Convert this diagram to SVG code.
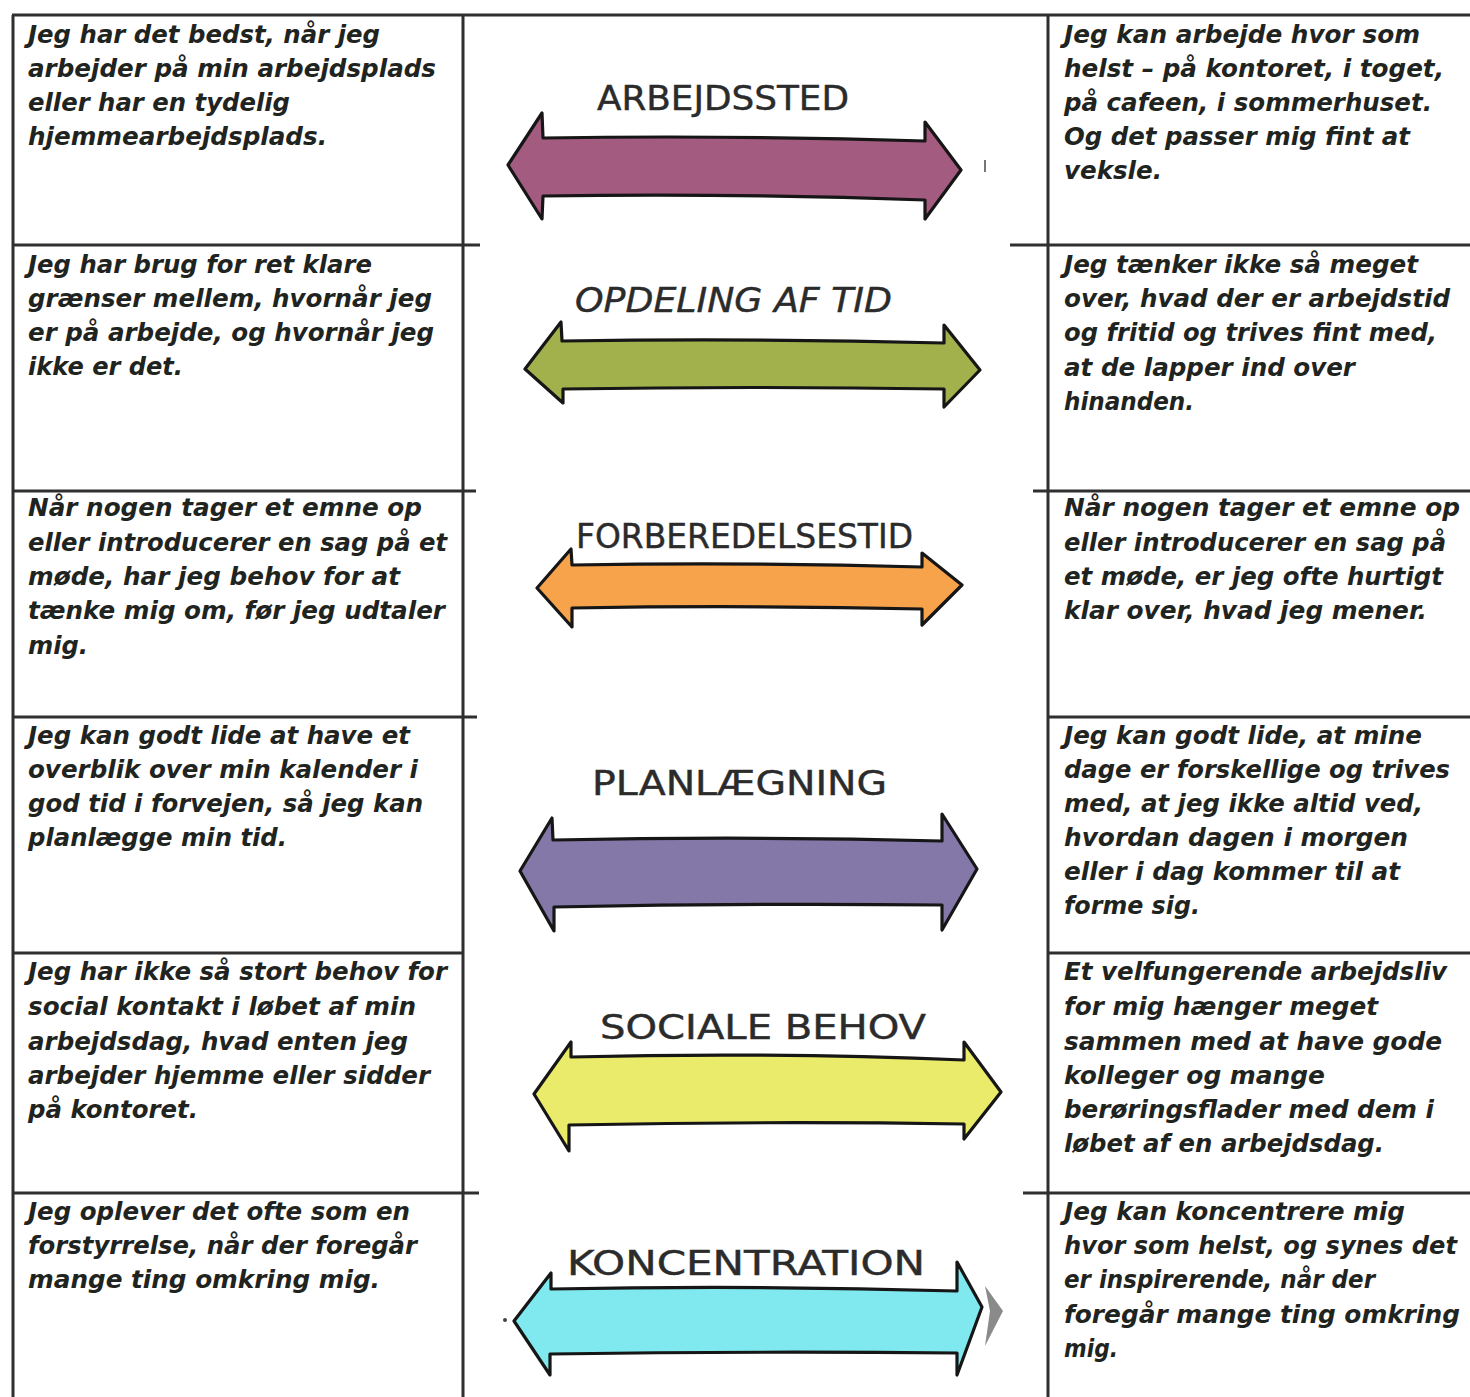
<svg xmlns="http://www.w3.org/2000/svg" width="1470" height="1397" viewBox="0 0 1470 1397">
  <style>
    .cell { font-family: "DejaVu Sans", "Liberation Sans", sans-serif; font-weight: bold; font-style: italic; font-size: 24px; fill: #1f2420; }
    .head { font-family: "DejaVu Sans Condensed", "DejaVu Sans", sans-serif; font-size: 34px; fill: #2b2b2b; stroke: #2b2b2b; stroke-width: 0.4; }
    .arrow { stroke: #161616; stroke-width: 3.2; stroke-linejoin: round; }
    .rule { stroke: #2f2f2f; stroke-width: 3; fill: none; }
  </style>

  <rect x="0" y="0" width="1470" height="1397" fill="#ffffff"/>

  <!-- table rules -->
  <g id="connectors">
    <line class="rule" x1="12" y1="15" x2="1470" y2="15"/>
    <line class="rule" x1="13" y1="15" x2="13" y2="1397"/>
    <line class="rule" x1="463" y1="15" x2="463" y2="1397"/>
    <line class="rule" x1="1048" y1="15" x2="1048" y2="1397" stroke="#4a4a4a"/>
    <line class="rule" x1="13" y1="245" x2="480" y2="245"/>
    <line class="rule" x1="1010" y1="245" x2="1470" y2="245"/>
    <line class="rule" x1="13" y1="491" x2="476" y2="491"/>
    <line class="rule" x1="1033" y1="491" x2="1470" y2="491"/>
    <line class="rule" x1="13" y1="717" x2="477" y2="717"/>
    <line class="rule" x1="1048" y1="717" x2="1470" y2="717"/>
    <line class="rule" x1="13" y1="953" x2="463" y2="953"/>
    <line class="rule" x1="1048" y1="953" x2="1470" y2="953"/>
    <line class="rule" x1="13" y1="1193" x2="479" y2="1193"/>
    <line class="rule" x1="1023" y1="1193" x2="1470" y2="1193"/>
  </g>

  <!-- row 1: arbejdssted -->
  <g id="left-arbejdssted">
    <text class="cell" x="28" y="43" textLength="352" lengthAdjust="spacingAndGlyphs">Jeg har det bedst, når jeg</text>
    <text class="cell" x="28" y="77" textLength="408" lengthAdjust="spacingAndGlyphs">arbejder på min arbejdsplads</text>
    <text class="cell" x="28" y="111" textLength="262" lengthAdjust="spacingAndGlyphs">eller har en tydelig</text>
    <text class="cell" x="28" y="145" textLength="299" lengthAdjust="spacingAndGlyphs">hjemmearbejdsplads.</text>
  </g>
  <g id="scale-arbejdssted">
    <text class="head" x="597" y="110" textLength="252" lengthAdjust="spacingAndGlyphs">ARBEJDSSTED</text>
    <path class="arrow" fill="#a45b80" d="M508,165 L542,113 L543,138 Q730,135 925,141 L925,122 L961,170 L925,219 L925,200 Q730,193 543,196 L542,219 Z"/>
    <line x1="985" y1="160" x2="985" y2="172" stroke="#777" stroke-width="2"/>
  </g>
  <g id="right-arbejdssted">
    <text class="cell" x="1064" y="43" textLength="356" lengthAdjust="spacingAndGlyphs">Jeg kan arbejde hvor som</text>
    <text class="cell" x="1064" y="77" textLength="380" lengthAdjust="spacingAndGlyphs">helst – på kontoret, i toget,</text>
    <text class="cell" x="1064" y="111" textLength="368" lengthAdjust="spacingAndGlyphs">på cafeen, i sommerhuset.</text>
    <text class="cell" x="1064" y="145" textLength="346" lengthAdjust="spacingAndGlyphs">Og det passer mig fint at</text>
    <text class="cell" x="1064" y="179" textLength="98" lengthAdjust="spacingAndGlyphs">veksle.</text>
  </g>

  <!-- row 2: opdeling af tid -->
  <g id="left-opdeling">
    <text class="cell" x="28" y="273" textLength="344" lengthAdjust="spacingAndGlyphs">Jeg har brug for ret klare</text>
    <text class="cell" x="28" y="307" textLength="404" lengthAdjust="spacingAndGlyphs">grænser mellem, hvornår jeg</text>
    <text class="cell" x="28" y="341" textLength="406" lengthAdjust="spacingAndGlyphs">er på arbejde, og hvornår jeg</text>
    <text class="cell" x="28" y="375" textLength="155" lengthAdjust="spacingAndGlyphs">ikke er det.</text>
  </g>
  <g id="scale-opdeling">
    <text class="head" x="575" y="312" font-size="28" font-style="italic" textLength="317" lengthAdjust="spacingAndGlyphs">OPDELING AF TID</text>
    <path class="arrow" fill="#a3b14c" d="M525,369 L561,322 L562,341 Q750,338 944,343 L944,325 L980,370 L944,407 L944,389 Q750,386 563,389 L563,403 Z"/>
  </g>
  <g id="right-opdeling">
    <text class="cell" x="1064" y="273" textLength="354" lengthAdjust="spacingAndGlyphs">Jeg tænker ikke så meget</text>
    <text class="cell" x="1064" y="307" textLength="386" lengthAdjust="spacingAndGlyphs">over, hvad der er arbejdstid</text>
    <text class="cell" x="1064" y="341" textLength="373" lengthAdjust="spacingAndGlyphs">og fritid og trives fint med,</text>
    <text class="cell" x="1064" y="376" textLength="291" lengthAdjust="spacingAndGlyphs">at de lapper ind over</text>
    <text class="cell" x="1064" y="410" textLength="130" lengthAdjust="spacingAndGlyphs">hinanden.</text>
  </g>

  <!-- row 3: forberedelsestid -->
  <g id="left-forberedelse">
    <text class="cell" x="28" y="516" textLength="394" lengthAdjust="spacingAndGlyphs">Når nogen tager et emne op</text>
    <text class="cell" x="28" y="551" textLength="419" lengthAdjust="spacingAndGlyphs">eller introducerer en sag på et</text>
    <text class="cell" x="28" y="585" textLength="372" lengthAdjust="spacingAndGlyphs">møde, har jeg behov for at</text>
    <text class="cell" x="28" y="619" textLength="417" lengthAdjust="spacingAndGlyphs">tænke mig om, før jeg udtaler</text>
    <text class="cell" x="28" y="654" textLength="60" lengthAdjust="spacingAndGlyphs">mig.</text>
  </g>
  <g id="scale-forberedelse">
    <text class="head" x="576" y="548" font-size="29" textLength="337" lengthAdjust="spacingAndGlyphs">FORBEREDELSESTID</text>
    <path class="arrow" fill="#f6a34c" d="M537,588 L571,549 L572,565 Q745,562 922,567 L922,553 L962,585 L922,625 L922,609 Q745,605 572,608 L572,627 Z"/>
  </g>
  <g id="right-forberedelse">
    <text class="cell" x="1064" y="516" textLength="396" lengthAdjust="spacingAndGlyphs">Når nogen tager et emne op</text>
    <text class="cell" x="1064" y="551" textLength="382" lengthAdjust="spacingAndGlyphs">eller introducerer en sag på</text>
    <text class="cell" x="1064" y="585" textLength="379" lengthAdjust="spacingAndGlyphs">et møde, er jeg ofte hurtigt</text>
    <text class="cell" x="1064" y="619" textLength="363" lengthAdjust="spacingAndGlyphs">klar over, hvad jeg mener.</text>
  </g>

  <!-- row 4: planlægning -->
  <g id="left-planlaegning">
    <text class="cell" x="28" y="744" textLength="382" lengthAdjust="spacingAndGlyphs">Jeg kan godt lide at have et</text>
    <text class="cell" x="28" y="778" textLength="390" lengthAdjust="spacingAndGlyphs">overblik over min kalender i</text>
    <text class="cell" x="28" y="812" textLength="395" lengthAdjust="spacingAndGlyphs">god tid i forvejen, så jeg kan</text>
    <text class="cell" x="28" y="846" textLength="259" lengthAdjust="spacingAndGlyphs">planlægge min tid.</text>
  </g>
  <g id="scale-planlaegning">
    <text class="head" x="592" y="795" font-size="37" textLength="295" lengthAdjust="spacingAndGlyphs">PLANLÆGNING</text>
    <path class="arrow" fill="#8478a8" d="M520,871 L552,818 L553,840 Q750,836 942,841 L942,814 L977,869 L942,930 L942,905 Q750,903 554,907 L554,931 Z"/>
  </g>
  <g id="right-planlaegning">
    <text class="cell" x="1064" y="744" textLength="358" lengthAdjust="spacingAndGlyphs">Jeg kan godt lide, at mine</text>
    <text class="cell" x="1064" y="778" textLength="386" lengthAdjust="spacingAndGlyphs">dage er forskellige og trives</text>
    <text class="cell" x="1064" y="812" textLength="359" lengthAdjust="spacingAndGlyphs">med, at jeg ikke altid ved,</text>
    <text class="cell" x="1064" y="846" textLength="344" lengthAdjust="spacingAndGlyphs">hvordan dagen i morgen</text>
    <text class="cell" x="1064" y="880" textLength="336" lengthAdjust="spacingAndGlyphs">eller i dag kommer til at</text>
    <text class="cell" x="1064" y="914" textLength="136" lengthAdjust="spacingAndGlyphs">forme sig.</text>
  </g>

  <!-- row 5: sociale behov -->
  <g id="left-sociale">
    <text class="cell" x="28" y="980" textLength="419" lengthAdjust="spacingAndGlyphs">Jeg har ikke så stort behov for</text>
    <text class="cell" x="28" y="1015" textLength="388" lengthAdjust="spacingAndGlyphs">social kontakt i løbet af min</text>
    <text class="cell" x="28" y="1050" textLength="380" lengthAdjust="spacingAndGlyphs">arbejdsdag, hvad enten jeg</text>
    <text class="cell" x="28" y="1084" textLength="402" lengthAdjust="spacingAndGlyphs">arbejder hjemme eller sidder</text>
    <text class="cell" x="28" y="1118" textLength="170" lengthAdjust="spacingAndGlyphs">på kontoret.</text>
  </g>
  <g id="scale-sociale">
    <text class="head" x="600" y="1039" font-size="35" textLength="326" lengthAdjust="spacingAndGlyphs">SOCIALE BEHOV</text>
    <path class="arrow" fill="#ebeb6b" d="M534,1094 L571,1042 L571,1057 Q770,1052 964,1060 L964,1042 L1001,1092 L964,1139 L964,1124 Q770,1121 569,1125 L569,1151 Z"/>
  </g>
  <g id="right-sociale">
    <text class="cell" x="1064" y="980" textLength="383" lengthAdjust="spacingAndGlyphs">Et velfungerende arbejdsliv</text>
    <text class="cell" x="1064" y="1015" textLength="314" lengthAdjust="spacingAndGlyphs">for mig hænger meget</text>
    <text class="cell" x="1064" y="1050" textLength="378" lengthAdjust="spacingAndGlyphs">sammen med at have gode</text>
    <text class="cell" x="1064" y="1084" textLength="261" lengthAdjust="spacingAndGlyphs">kolleger og mange</text>
    <text class="cell" x="1064" y="1118" textLength="370" lengthAdjust="spacingAndGlyphs">berøringsflader med dem i</text>
    <text class="cell" x="1064" y="1152" textLength="320" lengthAdjust="spacingAndGlyphs">løbet af en arbejdsdag.</text>
  </g>

  <!-- row 6: koncentration -->
  <g id="left-koncentration">
    <text class="cell" x="28" y="1220" textLength="382" lengthAdjust="spacingAndGlyphs">Jeg oplever det ofte som en</text>
    <text class="cell" x="28" y="1254" textLength="389" lengthAdjust="spacingAndGlyphs">forstyrrelse, når der foregår</text>
    <text class="cell" x="28" y="1288" textLength="352" lengthAdjust="spacingAndGlyphs">mange ting omkring mig.</text>
  </g>
  <g id="scale-koncentration">
    <text class="head" x="567" y="1275" font-size="40" textLength="358" lengthAdjust="spacingAndGlyphs">KONCENTRATION</text>
    <path d="M985,1286 L1003,1311 L985,1346 L990,1311 Z" fill="#8a8a8a"/>
    <path class="arrow" fill="#80e9ef" d="M514,1321 L551,1273 L551,1289 Q755,1285 957,1291 L957,1262 L982,1307 L957,1375 L957,1353 Q755,1351 550,1354 L550,1375 Z"/>
    <circle cx="505" cy="1320" r="2" fill="#444"/>
  </g>
  <g id="right-koncentration">
    <text class="cell" x="1064" y="1220" textLength="341" lengthAdjust="spacingAndGlyphs">Jeg kan koncentrere mig</text>
    <text class="cell" x="1064" y="1254" textLength="393" lengthAdjust="spacingAndGlyphs">hvor som helst, og synes det</text>
    <text class="cell" x="1064" y="1288" textLength="311" lengthAdjust="spacingAndGlyphs">er inspirerende, når der</text>
    <text class="cell" x="1064" y="1323" textLength="396" lengthAdjust="spacingAndGlyphs">foregår mange ting omkring</text>
    <text class="cell" x="1064" y="1357" textLength="54" lengthAdjust="spacingAndGlyphs">mig.</text>
  </g>
</svg>
